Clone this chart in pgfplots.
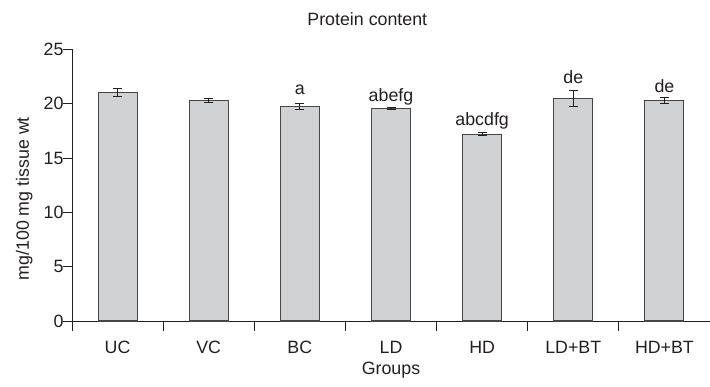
\documentclass[border=0pt]{standalone}
\usepackage{fontspec}
\setmainfont{Liberation Sans}
\usepackage{pgfplots}
\pgfplotsset{compat=1.18}
\usepackage{pgfplotstable}
\definecolor{barfill}{RGB}{209,210,212}
\definecolor{edge}{RGB}{70,70,70}
\definecolor{ink}{RGB}{35,31,32}
\pgfplotstableread{
x y e
0 21.05 0.35
1 20.30 0.15
2 19.75 0.25
3 19.55 0.10
4 17.20 0.15
5 20.45 0.75
6 20.30 0.30
}\protein
\newcommand{\f}{\fontsize{17.8}{21}\selectfont}
\begin{document}
\begin{tikzpicture}
\begin{axis}[
  scale only axis, width=638pt, height=271.7pt,
  xmin=-0.5, xmax=6.5, ymin=0, ymax=25,
  axis x line=bottom, axis y line=left,
  axis line style={-, ink, line width=0.9pt},
  xtick={0,...,6}, xticklabels={UC,VC,BC,LD,HD,LD+BT,HD+BT},
  minor xtick={-0.5,0.5,...,5.5},
  ytick={0,5,...,25},
  tick align=outside, major tick length=9pt, minor tick length=10pt,
  tick style={ink, line width=0.9pt},
  major x tick style={draw=none},
  /pgf/number format/assume math mode=true,
  tick label style={font=\f, text=ink},
  xticklabel style={yshift=-7.5pt},
  yticklabel style={xshift=4pt},
  xlabel={Groups}, ylabel={mg/100 mg tissue wt},
  label style={font=\f, text=ink},
  xlabel style={at={(axis description cs:0.5,-0.18)}, anchor=center},
  ylabel style={at={(axis description cs:-0.075,0.45)}, anchor=center},
  clip=false,
]
\addplot[ybar, bar width=39pt, fill=barfill, draw=edge, line width=1.1pt,
  error bars/.cd, y dir=both, y explicit,
  error bar style={ink, line width=0.8pt},
  error mark options={rotate=90, mark size=4.5pt, ink, line width=0.8pt}]
  table[x=x, y=y, y error=e] {\protein};
\node[anchor=base, font=\f, text=ink] at (axis cs:2,20.86) {a};
\node[anchor=base, font=\f, text=ink] at (axis cs:3,20.17) {abefg};
\node[anchor=base, font=\f, text=ink] at (axis cs:4,18.03) {abcdfg};
\node[anchor=base, font=\f, text=ink] at (axis cs:5,21.87) {de};
\node[anchor=base, font=\f, text=ink] at (axis cs:6,21.04) {de};
\node[font=\f, text=ink] at (axis cs:2.74,25) [yshift=30.3pt] {Protein content};
\end{axis}
\pgfresetboundingbox
\path[use as bounding box] (-72pt,-66pt) rectangle (638pt,321pt);
\end{tikzpicture}
\end{document}
